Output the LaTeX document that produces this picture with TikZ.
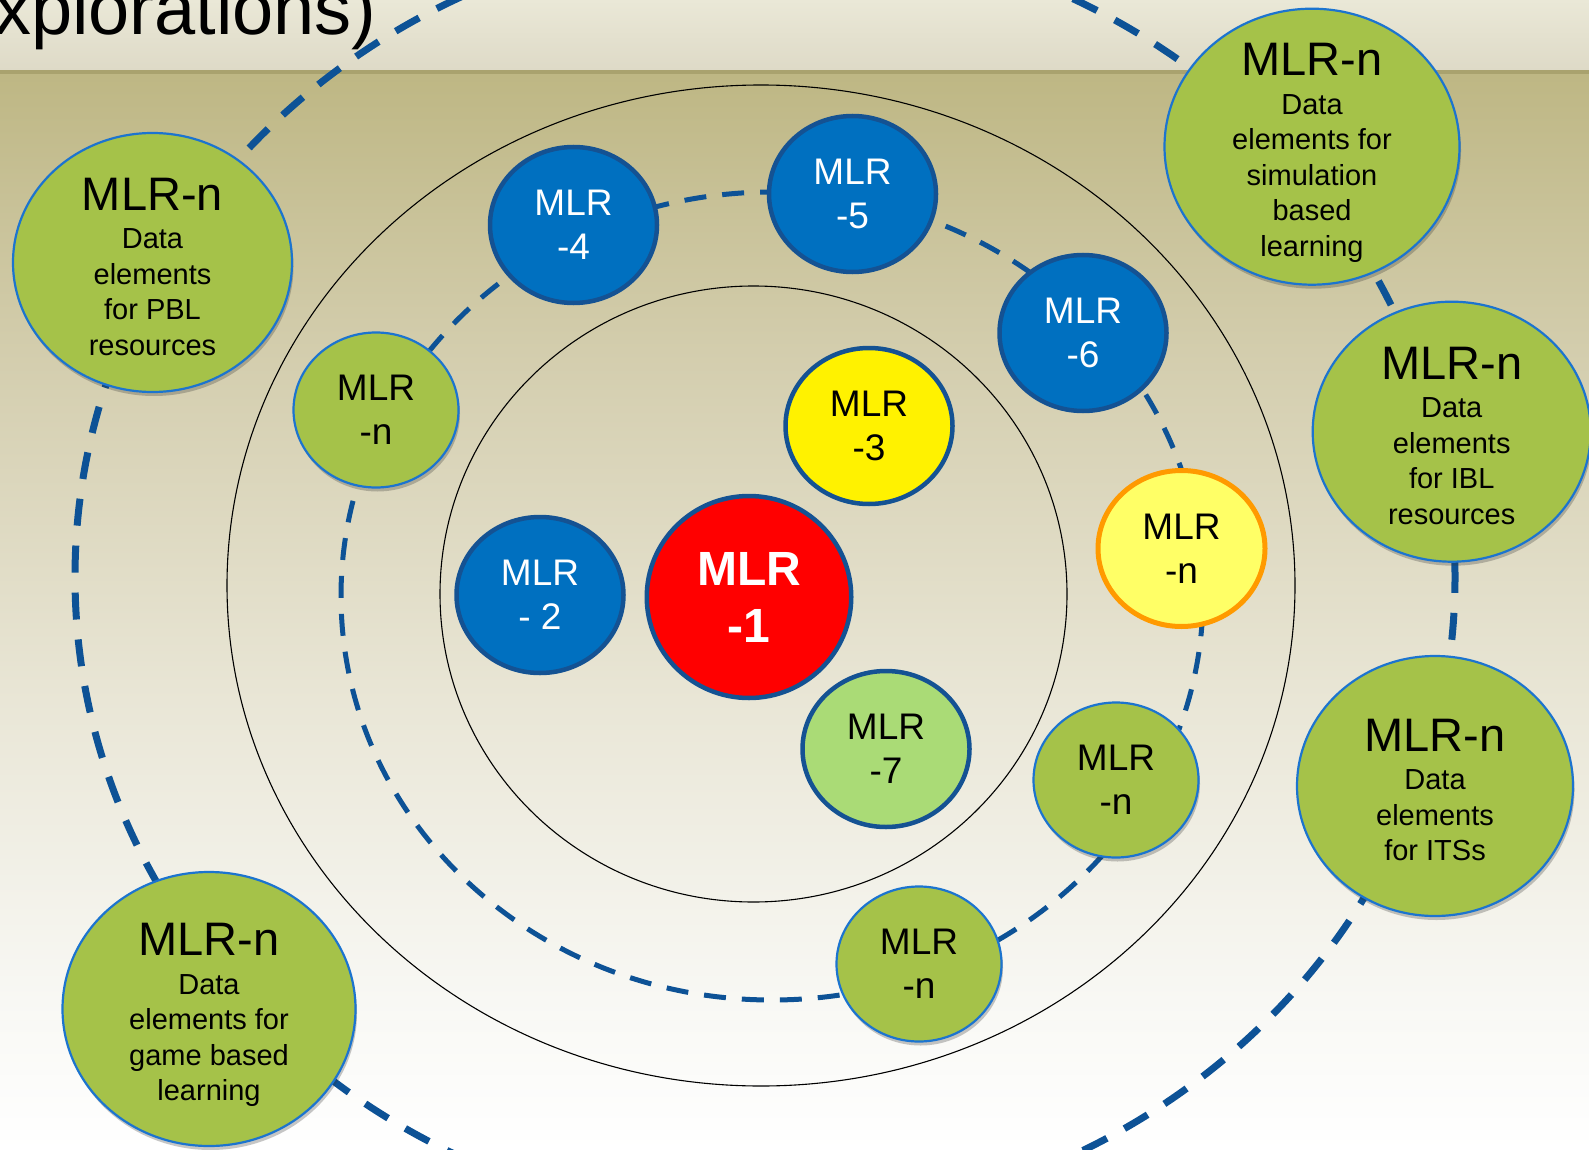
\documentclass[tikz,border=0pt]{standalone}
\usepackage{fontspec}
\setmainfont{Liberation Sans}
\usetikzlibrary{shapes.geometric,shadows}
\definecolor{bgTopA}{HTML}{EAE8D7}
\definecolor{bgTopB}{HTML}{DEDAC7}
\definecolor{bgLine}{HTML}{A9A26E}
\definecolor{bgA}{HTML}{BEB784}
\definecolor{bgB}{HTML}{D3CDAD}
\definecolor{bgC}{HTML}{E9E6D6}
\definecolor{bgD}{HTML}{F8F8F4}
\definecolor{mlrblue}{HTML}{0070C0}
\definecolor{mlrdark}{HTML}{145293}
\definecolor{mlrolive}{HTML}{A5C249}
\definecolor{mlrrim}{HTML}{1C74CF}
\definecolor{mlrdash}{HTML}{0D5296}
\definecolor{mlrlight}{HTML}{AADB76}
\definecolor{mlrpale}{HTML}{FFFF66}
\definecolor{mlrorange}{HTML}{FF9A00}
\begin{document}
\begin{tikzpicture}[x=1pt,y=-1pt,
  orb/.style={ellipse, inner sep=0pt, align=center},
  dk/.style={orb, draw=mlrdark, line width=4.5pt, minimum width=167pt, minimum height=156pt, font=\fontsize{37}{44}\selectfont},
  bluenode/.style={dk, fill=mlrblue, text=white},
  softshadow/.style={drop shadow={shadow xshift=1.5pt, shadow yshift=-4pt, opacity=0.28, fill=black!80}},
  smallolive/.style={orb, draw=mlrrim, line width=2.2pt, fill=mlrolive, minimum width=165pt, minimum height=155pt, font=\fontsize{37}{44}\selectfont, softshadow},
  bigolive/.style={orb, draw=mlrrim, line width=2.2pt, fill=mlrolive, softshadow},
  bigtext/.style={inner sep=0pt, align=center, font=\fontsize{29}{35.5}\selectfont},
  orbit/.style={draw=mlrdash, dash pattern=on 27pt off 20pt, line width=7pt},
  innerorbit/.style={draw=mlrdash, dash pattern=on 22pt off 16pt, line width=5pt},
  ring/.style={draw=black, line width=1.1pt}
]
\useasboundingbox (0,0) rectangle (1589,1150);
\clip (0,0) rectangle (1589,1150);
% background
\shade[top color=bgTopA, bottom color=bgTopB] (0,0) rectangle (1589,70);
\fill[bgLine] (0,70) rectangle (1589,75);
\shade[top color=bgA, bottom color=bgB] (0,75) rectangle (1589,350);
\shade[top color=bgB, bottom color=bgC] (0,349.5) rectangle (1589,700);
\shade[top color=bgC, bottom color=bgD] (0,699.5) rectangle (1589,1000);
\shade[top color=bgD, bottom color=white] (0,999.5) rectangle (1589,1150);
% title fragment
\node[anchor=base west, inner sep=0pt, font=\fontsize{74}{80}\selectfont] (title) at (-6,35) {xplorations)};
% rings
\draw[ring] (761,585.5) ellipse [x radius=534pt, y radius=500.5pt];
\draw[ring] (753.5,594) ellipse [x radius=313.5pt, y radius=308pt];
\draw[orbit] (765,577) ellipse [x radius=690pt, y radius=646pt];
\draw[innerorbit] (772,596) ellipse [x radius=431pt, y radius=404pt];
% inner nodes
\node[dk, fill=red, text=white, minimum width=204.5pt, minimum height=202pt, font=\bfseries\fontsize{48}{57}\selectfont] (m1) at (749,597) {MLR\\-1};
\node[bluenode] (m2) at (540,595) {MLR\\- 2};
\node[dk, fill=yellow] (m3) at (869,426) {MLR\\-3};
\node[bluenode] (m4) at (573.5,225) {MLR\\-4};
\node[bluenode] (m5) at (852.5,194) {MLR\\-5};
\node[bluenode] (m6) at (1083,333) {MLR\\-6};
\node[dk, fill=mlrlight] (m7) at (886,749) {MLR\\-7};
\node[dk, draw=mlrorange, line width=5pt, fill=mlrpale] (my) at (1181.5,548.5) {MLR\\-n};
\node[smallolive] (nl) at (376,410) {MLR\\-n};
\node[smallolive] (nr) at (1116,780) {MLR\\-n};
\node[smallolive] (nb) at (919,964) {MLR\\-n};
% big nodes
\node[bigolive, minimum width=279pt, minimum height=259pt] (pbl) at (152.5,262.5) {};
\node[bigtext] (pblt) at ([yshift=-4pt]pbl.center) {{\fontsize{47}{47}\selectfont MLR-n}\\[3pt]Data\\elements\\for PBL\\resources};
\node[bigolive, minimum width=295pt, minimum height=276pt] (sim) at (1312,146.7) {};
\node[bigtext] (simt) at ([yshift=-6pt]sim.center) {{\fontsize{47}{47}\selectfont MLR-n}\\[3pt]Data\\elements for\\simulation\\based\\learning};
\node[bigolive, minimum width=278pt, minimum height=260pt] (ibl) at (1451.7,431.7) {};
\node[bigtext] (iblt) at ([yshift=-4pt]ibl.center) {{\fontsize{47}{47}\selectfont MLR-n}\\[3pt]Data\\elements\\for IBL\\resources};
\node[bigolive, minimum width=276pt, minimum height=260pt] (its) at (1435,786) {};
\node[bigtext] (itst) at ([yshift=-4pt]its.center) {{\fontsize{47}{47}\selectfont MLR-n}\\[3pt]Data\\elements\\for ITSs};
\node[bigolive, minimum width=293pt, minimum height=274pt] (game) at (209,1009) {};
\node[bigtext] (gamet) at ([yshift=-6pt]game.center) {{\fontsize{47}{47}\selectfont MLR-n}\\[3pt]Data\\elements for\\game based\\learning};
\end{tikzpicture}
\end{document}
